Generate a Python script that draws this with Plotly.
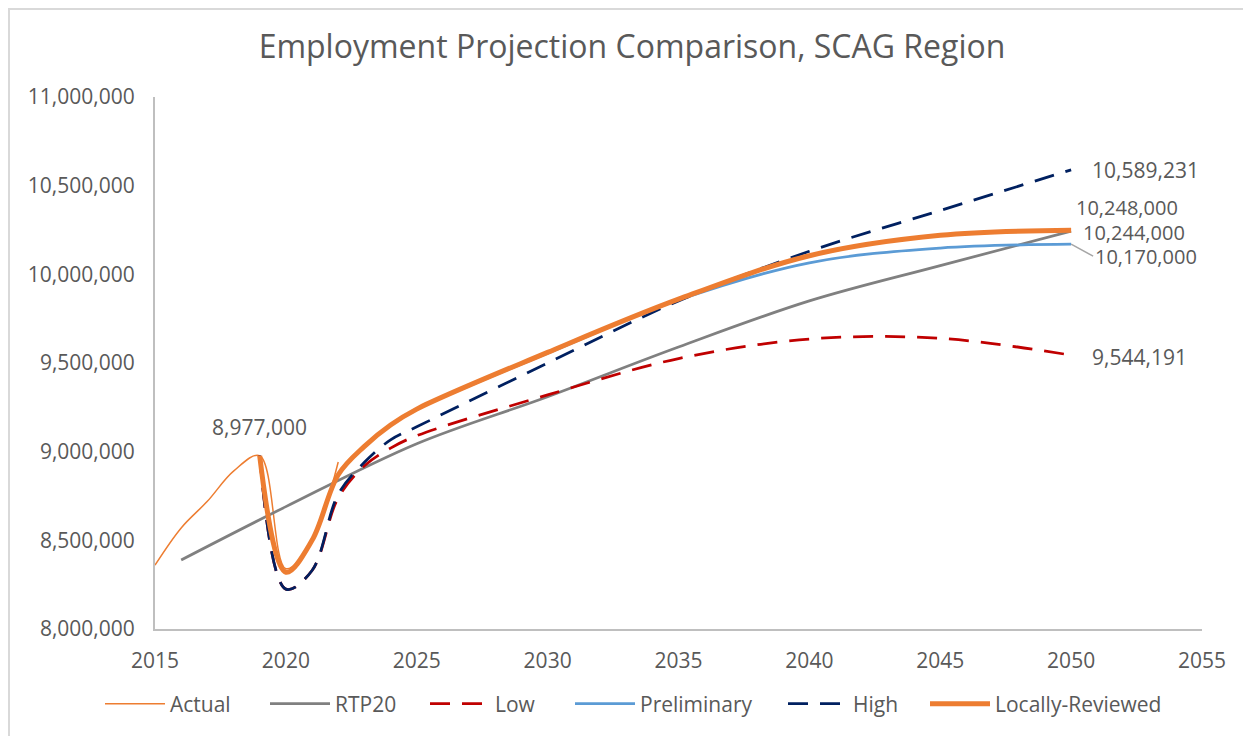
import plotly.graph_objects as go

# ---- data ----
years_actual = [2015, 2016, 2017, 2018, 2019, 2020, 2021, 2022]
actual = [8360000, 8570000, 8720000, 8890000, 8977000, 8340000, 8500000, 8942000]

years_rtp = [2016, 2020, 2025, 2030, 2035, 2040, 2045, 2050]
rtp20 = [8389000, 8690000, 9045000, 9310000, 9590000, 9850000, 10049000, 10244000]

years_proj = [2019, 2020, 2021, 2022, 2023, 2024, 2025, 2030, 2035, 2040, 2045, 2050]
low = [8977000, 8225000, 8330000, 8740000, 8920000, 9020000, 9090000, 9320000, 9525000, 9635000, 9639000, 9544191]
preliminary = [8977000, 8320000, 8500000, 8870000, 9030000, 9150000, 9238000, 9555000, 9855000, 10065000, 10148000, 10170000]
high = [8977000, 8225000, 8330000, 8760000, 8940000, 9066000, 9140000, 9500000, 9850000, 10130000, 10360000, 10589231]
locally = [8977000, 8320000, 8500000, 8870000, 9030000, 9150000, 9240000, 9560000, 9860000, 10105000, 10220000, 10248000]

x_ticks = [2015, 2020, 2025, 2030, 2035, 2040, 2045, 2050, 2055]
y_ticks = [8000000, 8500000, 9000000, 9500000, 10000000, 10500000, 11000000]

FONT = "Open Sans"
TXT = "#595959"

# page offset (browser body margin) and plot-area box in screen pixels
OFF = 8
W, H = 1251, 736
L, T, R, B = 155, 97, 1202, 629
PW, PH = R - L, B - T

def px(xs):
    return (xs - L) / PW

def py(ys):
    return (B - ys) / PH

fig = go.Figure()
series = [
    ("Actual", years_actual, actual, dict(color="#ED7D31", width=1.5), "legend"),
    ("RTP20", years_rtp, rtp20, dict(color="#808080", width=2.75), "legend2"),
    ("Low", years_proj, low, dict(color="#C00000", width=2.75, dash="20px,12px"), "legend3"),
    ("Preliminary", years_proj, preliminary, dict(color="#5B9BD5", width=2.75), "legend4"),
    ("High", years_proj, high, dict(color="#002060", width=2.75, dash="20px,12px"), "legend5"),
    ("Locally-Reviewed", years_proj, locally, dict(color="#ED7D31", width=5), "legend6"),
]
for name, xs, ys, ln, lg in series:
    ln = dict(ln, shape="spline")
    fig.add_trace(go.Scatter(x=xs, y=ys, name=name, mode="lines", line=ln, legend=lg))

def fmt(v):
    return f"{v:,.0f}"

LBL = 21
annos = [
    dict(x=years_proj[-1], y=high[-1], text=fmt(high[-1]), xshift=19, yshift=0, size=LBL),
    dict(x=years_proj[-1], y=locally[-1], text=fmt(locally[-1]), xshift=3, yshift=23, size=20),
    dict(x=years_rtp[-1], y=rtp20[-1], text=fmt(rtp20[-1]), xshift=10, yshift=-1, size=20),
    dict(x=years_proj[-1], y=low[-1], text=fmt(low[-1]), xshift=19, yshift=-2, size=LBL),
]
for a in annos:
    fig.add_annotation(x=a["x"], y=a["y"], text=a["text"], showarrow=False,
                       xanchor="left", yanchor="middle", xshift=a["xshift"], yshift=a["yshift"],
                       font=dict(family=FONT, size=a["size"], color=TXT))
# Preliminary label with leader line
fig.add_annotation(x=years_proj[-1], y=preliminary[-1], text=fmt(preliminary[-1]),
                   showarrow=True, arrowhead=0, arrowwidth=1.5, arrowcolor="#A6A6A6",
                   ax=22, ay=12, xanchor="left", yanchor="middle",
                   font=dict(family=FONT, size=20, color=TXT))
# Peak of actual
fig.add_annotation(x=years_actual[4], y=actual[4], text=fmt(actual[4]), showarrow=False,
                   xanchor="center", yanchor="middle", yshift=29,
                   font=dict(family=FONT, size=LBL, color=TXT))

# chart-area border (Excel style)
fig.add_shape(type="rect", xref="paper", yref="paper",
              x0=px(9), x1=px(1270), y0=py(760), y1=py(9),
              line=dict(color="#D9D9D9", width=2), fillcolor="rgba(0,0,0,0)", layer="below")

# legends: one per entry so each sits where the reference puts it
legend_x = [100, 265, 425, 570, 783, 925]
leg_common = dict(orientation="h", xanchor="left", yanchor="middle", y=py(704),
                  font=dict(family=FONT, size=21, color=TXT), bgcolor="rgba(0,0,0,0)",
                  itemwidth=60)
legends = {}
for i, lx in enumerate(legend_x):
    key = "legend" if i == 0 else f"legend{i + 1}"
    legends[key] = dict(leg_common, x=px(lx))

fig.update_layout(
    width=W, height=H,
    margin=dict(l=L - OFF, r=W - (R - OFF), t=T - OFF, b=H - (B - OFF)),
    paper_bgcolor="white", plot_bgcolor="white",
    title=dict(text="Employment Projection Comparison, SCAG Region",
               x=(632 - OFF) / W, xref="container", xanchor="center",
               y=1 - (47 - OFF) / H, yref="container", yanchor="middle",
               font=dict(family=FONT, size=32, color=TXT)),
    font=dict(family=FONT, size=20, color=TXT),
    showlegend=True,
    xaxis=dict(range=[2015, 2055], tickvals=x_ticks, ticktext=[str(t) for t in x_ticks],
               showgrid=False, zeroline=False, showline=True, linecolor="#BFBFBF", linewidth=2,
               ticks="", ticklabelstandoff=12, tickfont=dict(family=FONT, size=21, color=TXT)),
    yaxis=dict(range=[8000000, 11000000], tickvals=y_ticks,
               ticktext=[fmt(t) for t in y_ticks],
               showgrid=False, zeroline=False, showline=True, linecolor="#BFBFBF", linewidth=2,
               ticks="", ticklabelstandoff=14, tickfont=dict(family=FONT, size=21, color=TXT)),
    **legends,
)

fig.write_html("out.html")
